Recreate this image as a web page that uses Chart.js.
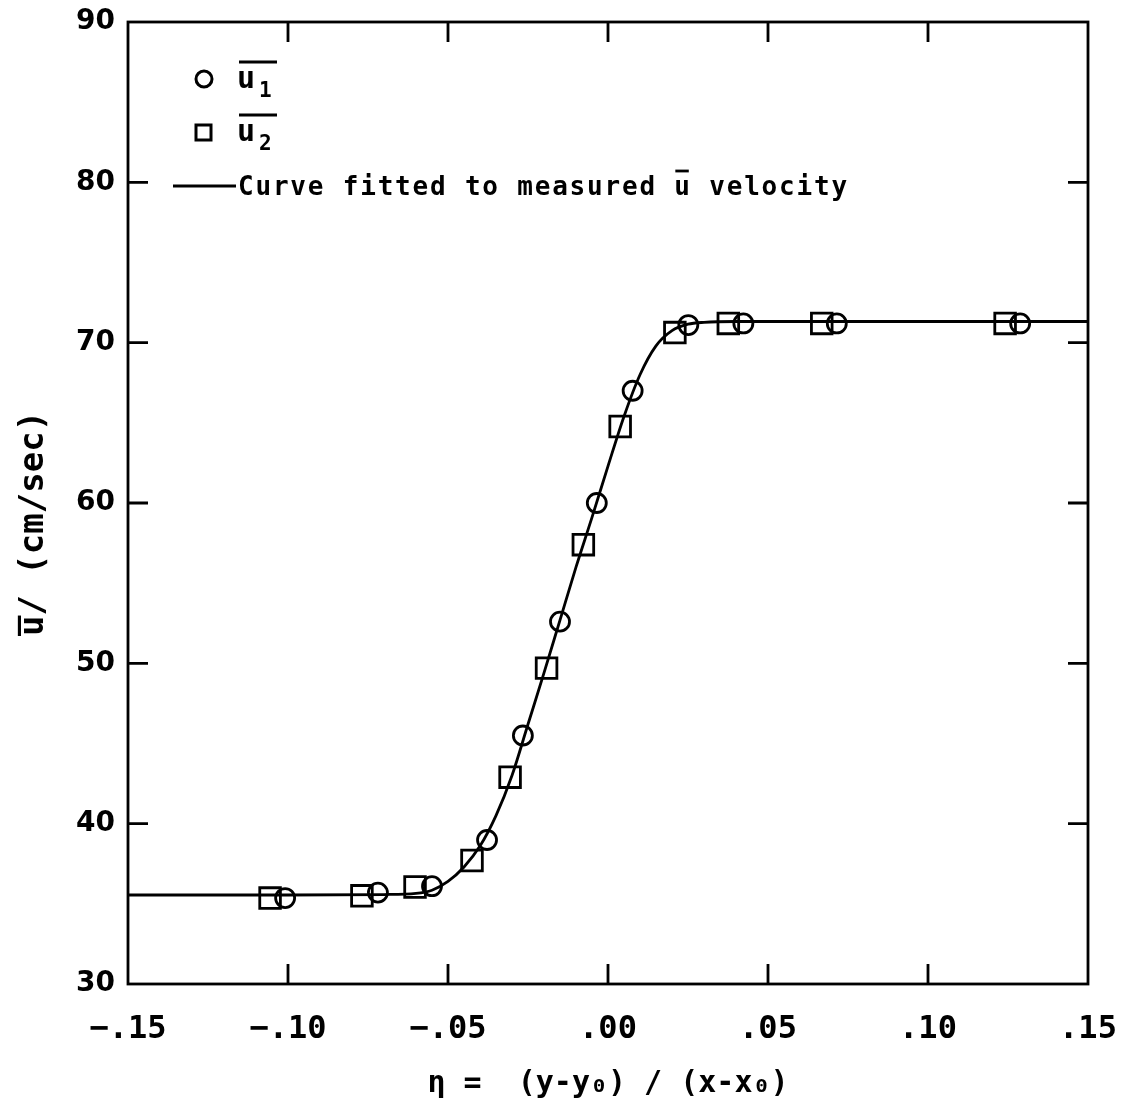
<!DOCTYPE html>
<html>
<head>
  <title>Mean velocity profile</title>
  <script src="https://cdn.jsdelivr.net/npm/chart.js@4.4.0/dist/chart.umd.min.js"></script>
  <style>
    html, body { margin: 0; padding: 0; background: #fff; }
    #wrap { width: 1132px; height: 1108px; }
  </style>
</head>
<body>
<div id="wrap"><canvas id="profile"></canvas></div>

<script>
  // measured points, u1 (circles)
  const etaU1 = [-0.1009, -0.0719, -0.0550, -0.0378, -0.0266, -0.0150, -0.0035, 0.0077, 0.0251, 0.0423, 0.0715, 0.1288];
  const velU1 = [35.36, 35.70, 36.10, 38.98, 45.50, 52.60, 60.00, 67.00, 71.10, 71.20, 71.20, 71.20];

  // measured points, u2 (squares)
  const etaU2 = [-0.1056, -0.0769, -0.0603, -0.0425, -0.0306, -0.0192, -0.0077, 0.0038, 0.0209, 0.0376, 0.0668, 0.1241];
  const velU2 = [35.36, 35.50, 36.05, 37.70, 42.90, 49.70, 57.40, 64.77, 70.63, 71.20, 71.20, 71.20];

  // fitted curve
  const curveEta = [-0.15, -0.10, -0.07, -0.06, -0.055, -0.05, -0.045, -0.04, -0.035, -0.03, -0.025, -0.02,
                    -0.015, -0.01, -0.005, 0.0, 0.005, 0.01, 0.015, 0.02, 0.025, 0.03, 0.04, 0.15];
  const curveVel = [35.55, 35.55, 35.58, 35.65, 35.85, 36.40, 37.30, 38.60, 40.50, 43.00, 46.20, 49.40,
                    52.70, 56.00, 59.10, 62.30, 65.40, 68.00, 69.80, 70.75, 71.15, 71.27, 71.32, 71.32];

  const xTickValues = [-0.15, -0.10, -0.05, 0.0, 0.05, 0.10, 0.15];
  const xTickLabels = ['\u2212.15', '\u2212.10', '\u2212.05', '.00', '.05', '.10', '.15'];
  const yTickValues = [30, 40, 50, 60, 70, 80, 90];

  const toPoints = (xs, ys) => xs.map((x, i) => ({ x: x, y: ys[i] }));

  // keep the plot box where the reference has it
  const noScalePadding = s => {
    s.paddingLeft = 0; s.paddingRight = 0; s.paddingTop = 0; s.paddingBottom = 0;
  };

  // frame with inward ticks on all four sides
  const framePlugin = {
    id: 'frame',
    afterDatasetsDraw(chart) {
      const { ctx, chartArea: a, scales } = chart;
      const len = 20;
      ctx.save();
      ctx.strokeStyle = '#000';
      ctx.lineWidth = 2.8;
      ctx.strokeRect(a.left, a.top, a.right - a.left, a.bottom - a.top);
      ctx.beginPath();
      scales.x.ticks.forEach(t => {
        const px = scales.x.getPixelForValue(t.value);
        if (px <= a.left + 1 || px >= a.right - 1) return;
        ctx.moveTo(px, a.bottom); ctx.lineTo(px, a.bottom - len);
        ctx.moveTo(px, a.top); ctx.lineTo(px, a.top + len);
      });
      scales.y.ticks.forEach(t => {
        const py = scales.y.getPixelForValue(t.value);
        if (py <= a.top + 1 || py >= a.bottom - 1) return;
        ctx.moveTo(a.left, py); ctx.lineTo(a.left + len, py);
        ctx.moveTo(a.right, py); ctx.lineTo(a.right - len, py);
      });
      ctx.stroke();
      ctx.restore();
    }
  };

  // legend: symbols with overlined u and subscripts
  const legendPlugin = {
    id: 'plotLegend',
    afterDraw(chart) {
      const ctx = chart.ctx;
      ctx.save();
      ctx.strokeStyle = '#000';
      ctx.fillStyle = '#000';
      ctx.lineWidth = 3;

      // circle
      ctx.beginPath();
      ctx.arc(204, 79, 8, 0, Math.PI * 2);
      ctx.stroke();
      // square
      ctx.strokeRect(196, 125, 15, 15);

      const main = "bold 26px 'DejaVu Sans Mono'";
      const big = "bold 30px 'DejaVu Sans Mono'";
      const sub = "bold 21px 'DejaVu Sans Mono'";
      const labelU = (baseY, idx) => {
        ctx.font = big;
        ctx.fillText('u', 237, baseY);
        ctx.font = sub;
        ctx.fillText(idx, 259, baseY + 9);
        ctx.beginPath();
        ctx.moveTo(239, baseY - 26);
        ctx.lineTo(277, baseY - 26);
        ctx.stroke();
      };
      labelU(88, '1');
      labelU(141, '2');

      // fitted curve entry
      ctx.lineWidth = 2.8;
      ctx.beginPath();
      ctx.moveTo(173, 186);
      ctx.lineTo(236, 186);
      ctx.stroke();
      ctx.font = main;
      ctx.letterSpacing = '1.8px';
      const pre = 'Curve fitted to measured ';
      const x0 = 238, base = 195;
      ctx.fillText(pre + 'u velocity', x0, base);
      const w0 = ctx.measureText(pre).width;
      const wu = ctx.measureText('u').width;
      ctx.beginPath();
      ctx.moveTo(x0 + w0 + 1, base - 24);
      ctx.lineTo(x0 + w0 + wu - 3, base - 24);
      ctx.stroke();
      ctx.restore();
    }
  };

  new Chart(document.getElementById('profile'), {
    type: 'scatter',
    data: {
      datasets: [
        {
          label: 'Curve fitted to measured u velocity',
          data: toPoints(curveEta, curveVel),
          showLine: true,
          borderColor: '#000',
          borderWidth: 2.8,
          pointRadius: 0,
          cubicInterpolationMode: 'monotone',
          order: 3
        },
        {
          label: 'u1',
          data: toPoints(etaU1, velU1),
          pointStyle: 'circle',
          pointRadius: 9.5,
          pointBorderWidth: 2.8,
          pointBorderColor: '#000',
          pointBackgroundColor: 'rgba(0,0,0,0)',
          order: 1
        },
        {
          label: 'u2',
          data: toPoints(etaU2, velU2),
          pointStyle: 'rect',
          pointRadius: 14.6,
          pointBorderWidth: 2.8,
          pointBorderColor: '#000',
          pointBackgroundColor: 'rgba(0,0,0,0)',
          order: 2
        }
      ]
    },
    options: {
      responsive: true,
      maintainAspectRatio: false,
      animation: false,
      layout: { padding: { top: 22, right: 44, left: 0, bottom: 0 } },
      plugins: {
        legend: { display: false },
        tooltip: { enabled: false }
      },
      scales: {
        x: {
          type: 'linear',
          min: -0.15,
          max: 0.15,
          afterBuildTicks: s => { s.ticks = xTickValues.map(v => ({ value: v })); },
          afterFit: s => { s.height = 124; noScalePadding(s); },
          grid: { display: false, drawTicks: false },
          border: { display: false },
          ticks: {
            color: '#000',
            padding: 26,
            maxRotation: 0,
            font: { family: 'DejaVu Sans Mono', size: 32, weight: 'bold' },
            callback: v => xTickLabels[xTickValues.findIndex(t => Math.abs(t - v) < 1e-9)]
          },
          title: {
            display: true,
            text: '\u03B7 =  (y-y\u2080) / (x-x\u2080)',
            color: '#000',
            font: { family: 'DejaVu Sans Mono', size: 30, weight: 'bold' },
            padding: { top: 0, bottom: 6 }
          }
        },
        y: {
          type: 'linear',
          min: 30,
          max: 90,
          afterBuildTicks: s => { s.ticks = yTickValues.map(v => ({ value: v })); },
          afterFit: s => { s.width = 128; noScalePadding(s); },
          grid: { display: false, drawTicks: false },
          border: { display: false },
          ticks: {
            color: '#000',
            padding: 13,
            font: { family: 'DejaVu Sans', size: 28, weight: 'bold' }
          },
          title: {
            display: true,
            text: 'u\u0305/ (cm/sec)  ',
            color: '#000',
            font: { family: 'DejaVu Sans Mono', size: 34, weight: 'bold' },
            padding: { top: 14, bottom: 0 }
          }
        }
      }
    },
    plugins: [framePlugin, legendPlugin]
  });
</script>
</body>
</html>
